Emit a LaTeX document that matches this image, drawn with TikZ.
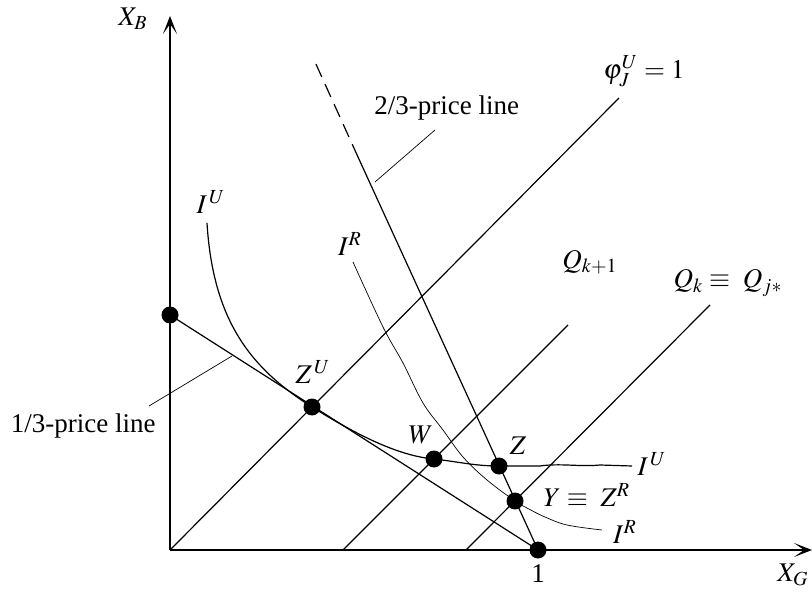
\documentclass[tikz,border=0pt]{standalone}
\usepackage{fontspec}
\usepackage{mathptmx}
\setmainfont{Liberation Serif}
\usetikzlibrary{positioning,arrows.meta}

\begin{document}
\begin{tikzpicture}[x=0.5pt, y=-0.5pt,
    dot/.style={circle, fill=black, inner sep=0pt, minimum size=8.5pt},
    lbl/.style={font=\fontsize{13.5}{15}\selectfont, inner sep=1pt},
    axis/.style={line width=0.7pt, -{Stealth[length=9pt, width=7pt, inset=5pt]}},
    ln/.style={line width=0.6pt},
    thin curve/.style={line width=0.35pt},
]
\useasboundingbox (0,0) rectangle (812,592);

% axes
\coordinate (O) at (170,550);
\coordinate (ytop) at (170,16);
\coordinate (xend) at (812,550);
\draw[axis] (O) -- (ytop);
\draw[axis] (O) -- (xend);
\node[lbl] (xb) at (133,19) {$X_B$};
\node[lbl] (xg) at (793,575) {$X_G$};

% points
\node[dot] (A) at (170,315) {};
\node[dot] (one) at (538,550) {};
\node[dot] (ZU) at (312,407) {};
\node[dot] (W) at (434,459) {};
\node[dot] (Z) at (499,466) {};
\node[dot] (Y) at (515,501) {};
\node[lbl] (onelbl) at (538,574) {1};

% end points of the lines
\coordinate (phitop) at (619,98);
\coordinate (qkabot) at (343,550);
\coordinate (qkatop) at (568,325);
\coordinate (qkbot) at (466,550);
\coordinate (qktop) at (710,305);
\coordinate (twomid) at (358,157);
\coordinate (twotop) at (315,62);

% lines
\draw[ln] (A.center) -- (one.center);
\draw[ln] (O) -- (phitop);
\draw[ln] (qkabot) -- (qkatop);
\draw[ln] (qkbot) -- (qktop);
\draw[ln] (one.center) -- (twomid);
\draw[ln, dashed, dash pattern=on 7pt off 4pt] (twomid) -- (twotop);

% indifference curves
\draw[ln] (207,223) .. controls (213,320) and (250,368) .. (ZU.center)
    .. controls (360,437) and (400,456) .. (W.center)
    .. controls (460,462) and (475,466) .. (Z.center)
    -- (540,466) .. controls (560,463) and (580,467) .. (600,465) -- (632,466);
\draw[thin curve] plot[smooth, tension=0.6] coordinates {(353,262) (383,327) (403,363) (423,403) (443,430) (463,457) (487,480) (515,501) (527,508) (545,517) (567,525) (602,530)};

% leaders
\coordinate (twoa) at (375,182);
\coordinate (twob) at (435,130);
\coordinate (onea) at (149,406);
\coordinate (oneb) at (232,356);
\draw[thin curve] (twoa) -- (twob);
\draw[thin curve] (onea) -- (oneb);

% labels
\node[lbl, anchor=west] (twolbl) at (372,108) {2/3-price line};
\node[lbl, anchor=east] (onelinelbl) at (158,426) {1/3-price line};
\node[lbl] (philbl) at (644,71) {$\varphi_J^U = 1$};
\node[lbl] (qkalbl) at (590,262) {$Q_{k+1}$};
\node[lbl] (qklbl) at (728,283) {$Q_k \equiv\ Q_{j*}$};
\node[lbl] (iutop) at (211,202) {$I^{\,U}$};
\node[lbl] (irtop) at (350,244) {$I^{R}$};
\node[lbl] (zulbl) at (313,372) {$Z^{\,U}$};
\node[lbl] (wlbl) at (421,435) {$W$};
\node[lbl] (zlbl) at (518,446) {$Z$};
\node[lbl] (ylbl) at (587,495) {$Y \equiv\ Z^R$};
\node[lbl] (iuright) at (652,464) {$I^{\,U}$};
\node[lbl] (irright) at (625,532) {$I^{R}$};
\end{tikzpicture}
\end{document}
